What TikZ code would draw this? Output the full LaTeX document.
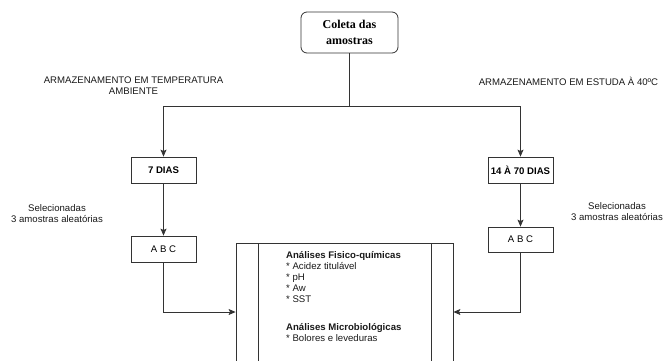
\documentclass[tikz,border=0pt]{standalone}
\usepackage{fontspec}
\setmainfont{Liberation Sans}
\newfontfamily\coletafont{Liberation Serif}
\usetikzlibrary{arrows.meta}

\tikzset{
  stagebox/.style={draw=black!80, line width=0.8pt, minimum width=65pt, minimum height=26pt, inner sep=0pt, font=\fontsize{9.6}{11}\selectfont\bfseries},
  samplebox/.style={stagebox, font=\fontsize{9.6}{11}\selectfont},
  note/.style={align=center, inner sep=0pt, text=black!90, font=\fontsize{9.6}{11}\selectfont},
  link/.style={draw=black!80, line width=0.8pt, -{Stealth[length=7pt,width=6pt,inset=1.5pt]}},
  procbox/.style={draw=black!80, line width=0.8pt, minimum width=217pt, minimum height=138pt, inner sep=0pt,
    path picture={\draw[black!80, line width=0.8pt]
      ([xshift=22pt]path picture bounding box.north west) -- ([xshift=22pt]path picture bounding box.south west)
      ([xshift=-22pt]path picture bounding box.north east) -- ([xshift=-22pt]path picture bounding box.south east);}},
}

\begin{document}
\begin{tikzpicture}[x=1pt, y=-1pt]
    \useasboundingbox (0,0) rectangle (667,360);
    \clip (0,0) rectangle (667,360);
    % Start
    \node[draw=black!80, line width=0.8pt, rounded corners=6pt, minimum width=97pt, minimum height=41pt, align=center,
      font=\coletafont\bfseries\fontsize{12}{15.6}\selectfont] (coleta) at (349.5,32.5) {Coleta das\\amostras};
    \coordinate (split) at (349.5,106);
    % Storage labels
    \node[note] (armL) at (133.5,85.5) {ARMAZENAMENTO EM TEMPERATURA\\AMBIENTE};
    \node[note] (armR) at (568.5,81) {ARMAZENAMENTO EM ESTUDA À 40ºC};
    % Storage times
    \node[stagebox] (dias7) at (163.5,170) {7 DIAS};
    \node[stagebox] (dias14) at (520.5,170) {14 À 70 DIAS};
    % Samples
    \node[note] (selL) at (57,213.5) {Selecionadas\\3 amostras aleatórias};
    \node[note] (selR) at (617,211.5) {Selecionadas\\3 amostras aleatórias};
    \node[samplebox] (abcL) at (163.5,249) {A B C};
    \node[samplebox, minimum height=25pt] (abcR) at (520.5,239.5) {A B C};
    % Analyses
    \node[procbox] (analises) at (344.5,312) {};
    \node[anchor=north west, align=left, inner sep=0pt, text=black!90, font=\fontsize{9.6}{11}\selectfont] (anaText) at (286,251)
      {\textbf{Análises Fisico-químicas}\\* Acidez titulável\\* pH\\* Aw\\* SST\\[17pt]\textbf{Análises Microbiológicas}\\* Bolores e leveduras};
    % Connectors
    \draw[draw=black!80, line width=0.8pt] (coleta) -- (split);
    \draw[link] (split) -| (dias7);
    \draw[link] (split) -| (dias14);
    \draw[link] (dias7) -- (abcL);
    \draw[link] (dias14) -- (abcR);
    \draw[link] (abcL) |- (analises);
    \draw[link] (abcR) |- (analises);
\end{tikzpicture}
\end{document}
